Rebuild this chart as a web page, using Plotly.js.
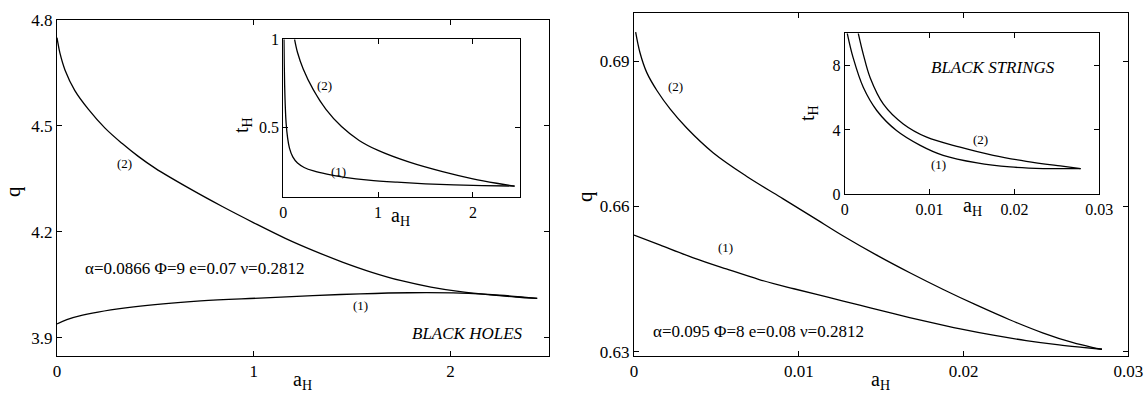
<!DOCTYPE html>
<html>
<head>
<meta charset="utf-8">
<script src="https://cdn.plot.ly/plotly-3.0.1.min.js"></script>
<style>html,body{margin:0;padding:0;background:#fff;}#chart{width:1146px;height:394px;}</style>
</head>
<body>
<div id="chart"></div>
<script>
// ---- Black holes: main panel (q vs a_H)
var bhA2 = [0, 0.003, 0.015, 0.041, 0.09, 0.16, 0.244, 0.33, 0.413, 0.5, 0.67, 0.84, 1.0, 1.16, 1.3, 1.45, 1.6, 1.75, 1.9, 2.05, 2.2, 2.33, 2.44];
var bhQ2 = [4.75, 4.74, 4.706, 4.658, 4.601, 4.547, 4.494, 4.451, 4.414, 4.38, 4.324, 4.272, 4.226, 4.182, 4.148, 4.115, 4.086, 4.062, 4.044, 4.031, 4.022, 4.016, 4.012];
var bhA1 = [0, 0.05, 0.13, 0.39, 0.73, 1.03, 1.3, 1.54, 1.79, 2.05, 2.25, 2.44];
var bhQ1 = [3.94, 3.952, 3.965, 3.988, 4.005, 4.013, 4.02, 4.025, 4.028, 4.027, 4.021, 4.012];
// ---- Black holes: inset (t_H vs a_H)
var bhIA1 = [0.007, 0.010, 0.014, 0.02, 0.03, 0.045, 0.065, 0.1, 0.15, 0.22, 0.32, 0.46, 0.65, 0.9, 1.2, 1.5, 1.8, 2.1, 2.44];
var bhIT1 = [1.0, 0.86, 0.74, 0.63, 0.52, 0.44, 0.38, 0.33, 0.295, 0.27, 0.25, 0.232, 0.214, 0.198, 0.186, 0.177, 0.171, 0.167, 0.164];
var bhIA2 = [0.119, 0.15, 0.21, 0.316, 0.45, 0.614, 0.8, 1.0, 1.33, 1.68, 2.0, 2.25, 2.44];
var bhIT2 = [1.0, 0.925, 0.831, 0.713, 0.601, 0.503, 0.424, 0.367, 0.300, 0.246, 0.205, 0.180, 0.164];
// ---- Black strings: main panel (q vs a_H)
var bsA2 = [0.0001, 0.00036, 0.00077, 0.0014, 0.0022, 0.0032, 0.0048, 0.0068, 0.0089, 0.0109, 0.0127, 0.0147, 0.0168, 0.0188, 0.0208, 0.0228, 0.0248, 0.0266, 0.0278, 0.0284];
var bsQ2 = [0.6960, 0.6918, 0.6877, 0.6839, 0.6801, 0.6762, 0.6711, 0.6663, 0.6619, 0.6577, 0.6539, 0.6500, 0.6462, 0.6428, 0.6396, 0.6366, 0.6339, 0.6319, 0.6309, 0.6305];
var bsA1 = [0, 0.0016, 0.0036, 0.0056, 0.0076, 0.0097, 0.0117, 0.0137, 0.0157, 0.0178, 0.0198, 0.0218, 0.0238, 0.0258, 0.0272, 0.0284];
var bsQ1 = [0.6541, 0.6520, 0.6494, 0.6471, 0.6449, 0.6430, 0.6413, 0.6396, 0.6379, 0.6362, 0.6347, 0.6334, 0.6323, 0.6314, 0.6309, 0.6305];
// ---- Black strings: inset (t_H vs a_H)
var bsIA1 = [0.0003, 0.001, 0.0022, 0.0038, 0.0061, 0.0089, 0.0116, 0.0156, 0.0195, 0.0234, 0.0278];
var bsIT1 = [10, 8.47, 6.63, 5.19, 3.96, 3.04, 2.42, 1.95, 1.70, 1.60, 1.60];
var bsIA2 = [0.0016, 0.0022, 0.003, 0.00456, 0.0069, 0.00966, 0.0136, 0.0175, 0.0214, 0.0254, 0.0278];
var bsIT2 = [10, 8.68, 7.24, 5.6, 4.37, 3.55, 2.93, 2.42, 2.05, 1.76, 1.60];

// tick values
var bhXTicks = [0, 1, 2];
var bhYTicks = [3.9, 4.2, 4.5, 4.8];
var bhIYTicks = [0.5, 1];
var bsXTicks = [0, 0.01, 0.02, 0.03];
var bsYTicks = [0.63, 0.66, 0.69];
var bsIYTicks = [0, 4, 8];

var W = 1146, H = 394;
function fx(p){ return p / W; }
function fy(p){ return 1 - p / H; }
var FONT = '"Liberation Serif", "Times New Roman", Times, serif';
var LINE = {color: '#000', width: 1.3, shape: 'spline', smoothing: 1};

function tr(x, y, xa, ya){
  return {x: x, y: y, xaxis: xa, yaxis: ya, mode: 'lines', line: LINE, hoverinfo: 'skip', showlegend: false};
}
var data = [
  tr(bhA2, bhQ2, 'x', 'y'), tr(bhA1, bhQ1, 'x', 'y'),
  tr(bhIA1, bhIT1, 'x2', 'y2'), tr(bhIA2, bhIT2, 'x2', 'y2'),
  tr(bsA2, bsQ2, 'x3', 'y3'), tr(bsA1, bsQ1, 'x3', 'y3'),
  tr(bsIA1, bsIT1, 'x4', 'y4'), tr(bsIA2, bsIT2, 'x4', 'y4')
];

function ax(domain, range, tickvals, anchor, fs){
  return {
    domain: domain, range: range, anchor: anchor,
    tickmode: 'array', tickvals: tickvals,
    showline: true, linecolor: '#000', linewidth: 1, mirror: 'ticks',
    ticks: 'inside', ticklen: 5, tickwidth: 1, tickcolor: '#000',
    showgrid: false, zeroline: false, fixedrange: true,
    tickfont: {family: FONT, size: fs, color: '#000'}
  };
}

function ann(text, xp, yp, size, opts){
  var a = {text: text, x: fx(xp), y: fy(yp), xref: 'paper', yref: 'paper',
    showarrow: false, xanchor: 'center', yanchor: 'middle',
    font: {family: FONT, size: size, color: '#000'}};
  if (opts) for (var k in opts) a[k] = opts[k];
  return a;
}

var layout = {
  width: W, height: H,
  margin: {l: 0, r: 0, t: 0, b: 0},
  paper_bgcolor: '#fff', plot_bgcolor: '#fff',
  showlegend: false,
  font: {family: FONT, color: '#000'},
  xaxis: ax([fx(57), fx(549)], [0, 2.5], bhXTicks, 'y', 17),
  yaxis: ax([fy(356), fy(20)], [3.849, 4.8], bhYTicks, 'x', 17),
  xaxis2: ax([fx(283.3), fx(520.3)], [0, 2.5], bhXTicks, 'y2', 16),
  yaxis2: ax([fy(197.3), fy(39.3)], [0.1, 1], bhIYTicks, 'x2', 16),
  xaxis3: ax([fx(634), fx(1128.3)], [0, 0.03], bsXTicks, 'y3', 17),
  yaxis3: ax([fy(355.7), fy(13.3)], [0.62917, 0.6999], bsYTicks, 'x3', 17),
  xaxis4: ax([fx(844.7), fx(1099.3)], [0, 0.03], bsXTicks, 'y4', 16),
  yaxis4: ax([fy(194.3), fy(33.3)], [0, 10], bsIYTicks, 'x4', 16),
  annotations: [
    ann('q', 13, 192, 21, {textangle: -90}),
    ann('a<sub>H</sub>', 303, 380, 20),
    ann('t<sub>H</sub>', 242, 125, 20, {textangle: -90}),
    ann('a<sub>H</sub>', 400, 216, 20),
    ann('(2)', 124, 163, 13),
    ann('(1)', 360, 305, 13),
    ann('(2)', 324, 85, 13),
    ann('(1)', 338, 171, 13),
    ann('α=0.0866 Φ=9 e=0.07 ν=0.2812', 82.7, 268, 17, {xanchor: 'left'}),
    ann('<i>BLACK HOLES</i>', 467, 333, 17),
    ann('q', 585, 197, 21, {textangle: -90}),
    ann('a<sub>H</sub>', 880, 380, 20),
    ann('t<sub>H</sub>', 808, 113, 20, {textangle: -90}),
    ann('a<sub>H</sub>', 972, 206, 20),
    ann('(2)', 675, 87, 13),
    ann('(1)', 725, 247, 13),
    ann('(2)', 980, 140, 13),
    ann('(1)', 938, 164, 13),
    ann('α=0.095 Φ=8 e=0.08 ν=0.2812', 650.7, 331.7, 17, {xanchor: 'left'}),
    ann('<i>BLACK STRINGS</i>', 993, 67, 17)
  ]
};

Plotly.newPlot('chart', data, layout, {staticPlot: true, displayModeBar: false});
</script>
</body>
</html>
